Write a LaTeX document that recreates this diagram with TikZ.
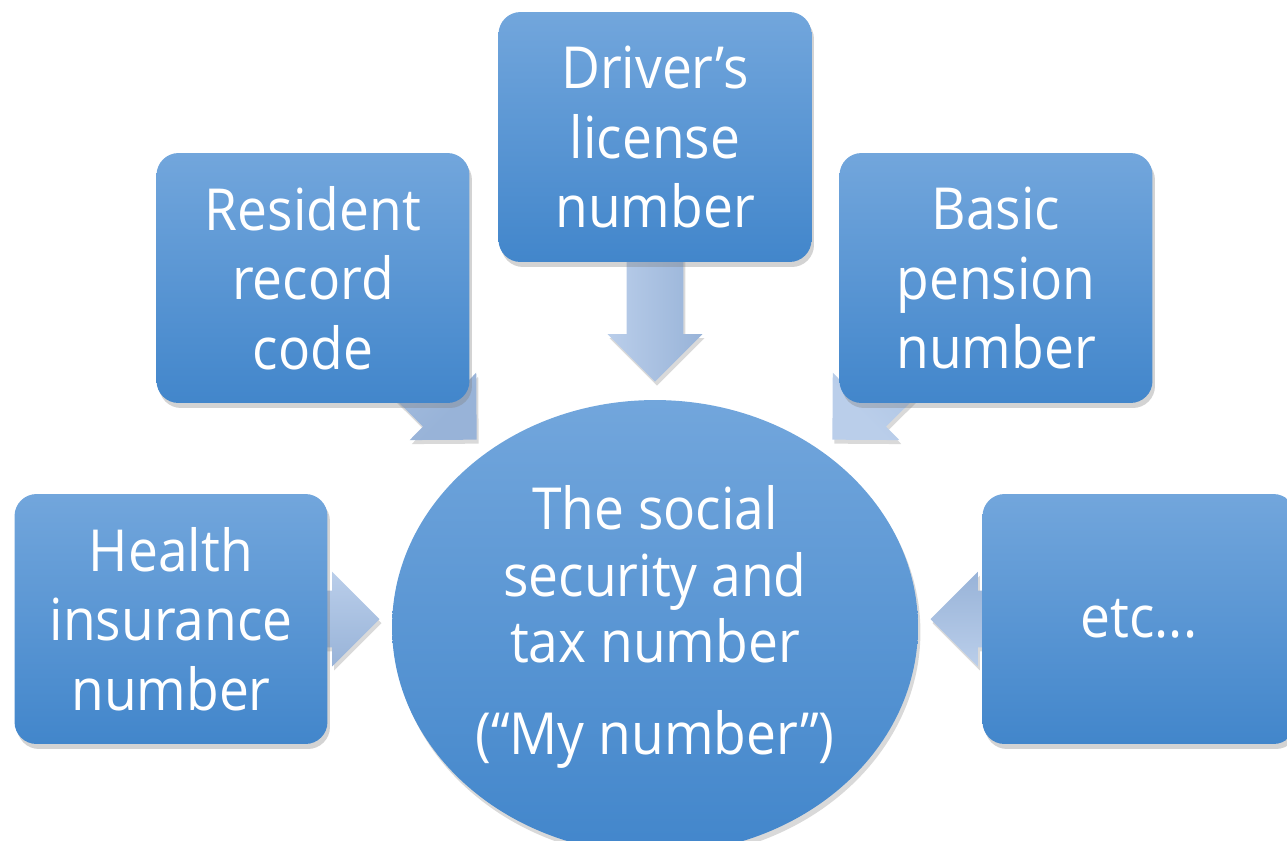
\documentclass[tikz,border=0pt]{standalone}
\usepackage{fontspec}
\setmainfont[FakeStretch=0.92]{Open Sans}
\usetikzlibrary{shapes.geometric,shapes.arrows,shadows,calc}
\pgfdeclarelayer{back}
\pgfsetlayers{back,main}
\definecolor{boxtop}{RGB}{114,166,220}
\definecolor{boxbot}{RGB}{66,134,203}
\definecolor{arrtop}{RGB}{186,206,234}
\definecolor{arrbot}{RGB}{152,179,216}

% block arrow from the centre of #1 to the tip #2, behind the boxes
\newcommand{\blockarrow}[2]{%
	\begin{pgfonlayer}{back}
	\path let \p1=(#1), \p2=(#2), \n1={atan2(\y2-\y1,\x2-\x1)}, \n2={veclen(\x2-\x1,\y2-\y1)}, \n3={-\n1} in
		node[bigarrow, rotate=\n1, minimum height=\n2, anchor=tip, shading angle=\n3] at (#2) {};
	\end{pgfonlayer}}

\begin{document}
\begin{tikzpicture}[x=0.02cm, y=-0.02cm,
	every node/.style={font=\fontsize{33}{39.5}\selectfont, text=white, align=center},
	idbox/.style={rectangle, rounded corners=0.44cm, minimum width=6.26cm, minimum height=5cm, inner sep=0pt, top color=boxtop, bottom color=boxbot, draw=none, drop shadow={shadow xshift=0.05cm, shadow yshift=-0.1cm, opacity=0.35}},
	hub/.style={ellipse, minimum width=10.52cm, minimum height=9.08cm, inner sep=0pt, top color=boxtop, bottom color=boxbot, draw=none, font=\fontsize{33}{38}\selectfont, drop shadow={shadow xshift=0.05cm, shadow yshift=-0.1cm, opacity=0.3}},
	bigarrow/.style={single arrow, single arrow tip angle=90, single arrow head extend=0.38cm, inner xsep=0pt, inner ysep=0.56cm, top color=arrtop, bottom color=arrbot, draw=none, drop shadow={shadow xshift=0.04cm, shadow yshift=-0.08cm, opacity=0.3}}]
	\useasboundingbox (0,0) rectangle (1287,840);

	\node[hub] (mynum) at (655,627) {The social\\security and\\tax number\\[0.5cm](“My number”)};
	\node[idbox] (driver) at (655,137) {Driver’s\\license\\number};
	\node[idbox] (resident) at (313,278) {Resident\\record\\code};
	\node[idbox] (pension) at (996,278) {Basic\\pension\\number};
	\node[idbox] (health) at (171,619) {Health\\insurance\\number};
	\node[idbox] (etc) at (1139,619) {etc...};

	\coordinate (tipD) at (655,382);
	\coordinate (tipR) at (477,440);
	\coordinate (tipP) at (832,440);
	\coordinate (tipH) at (380,619);
	\coordinate (tipE) at (930,619);

	\blockarrow{driver}{tipD}
	\blockarrow{resident}{tipR}
	\blockarrow{pension}{tipP}
	\blockarrow{health}{tipH}
	\blockarrow{etc}{tipE}

\end{tikzpicture}
\end{document}
